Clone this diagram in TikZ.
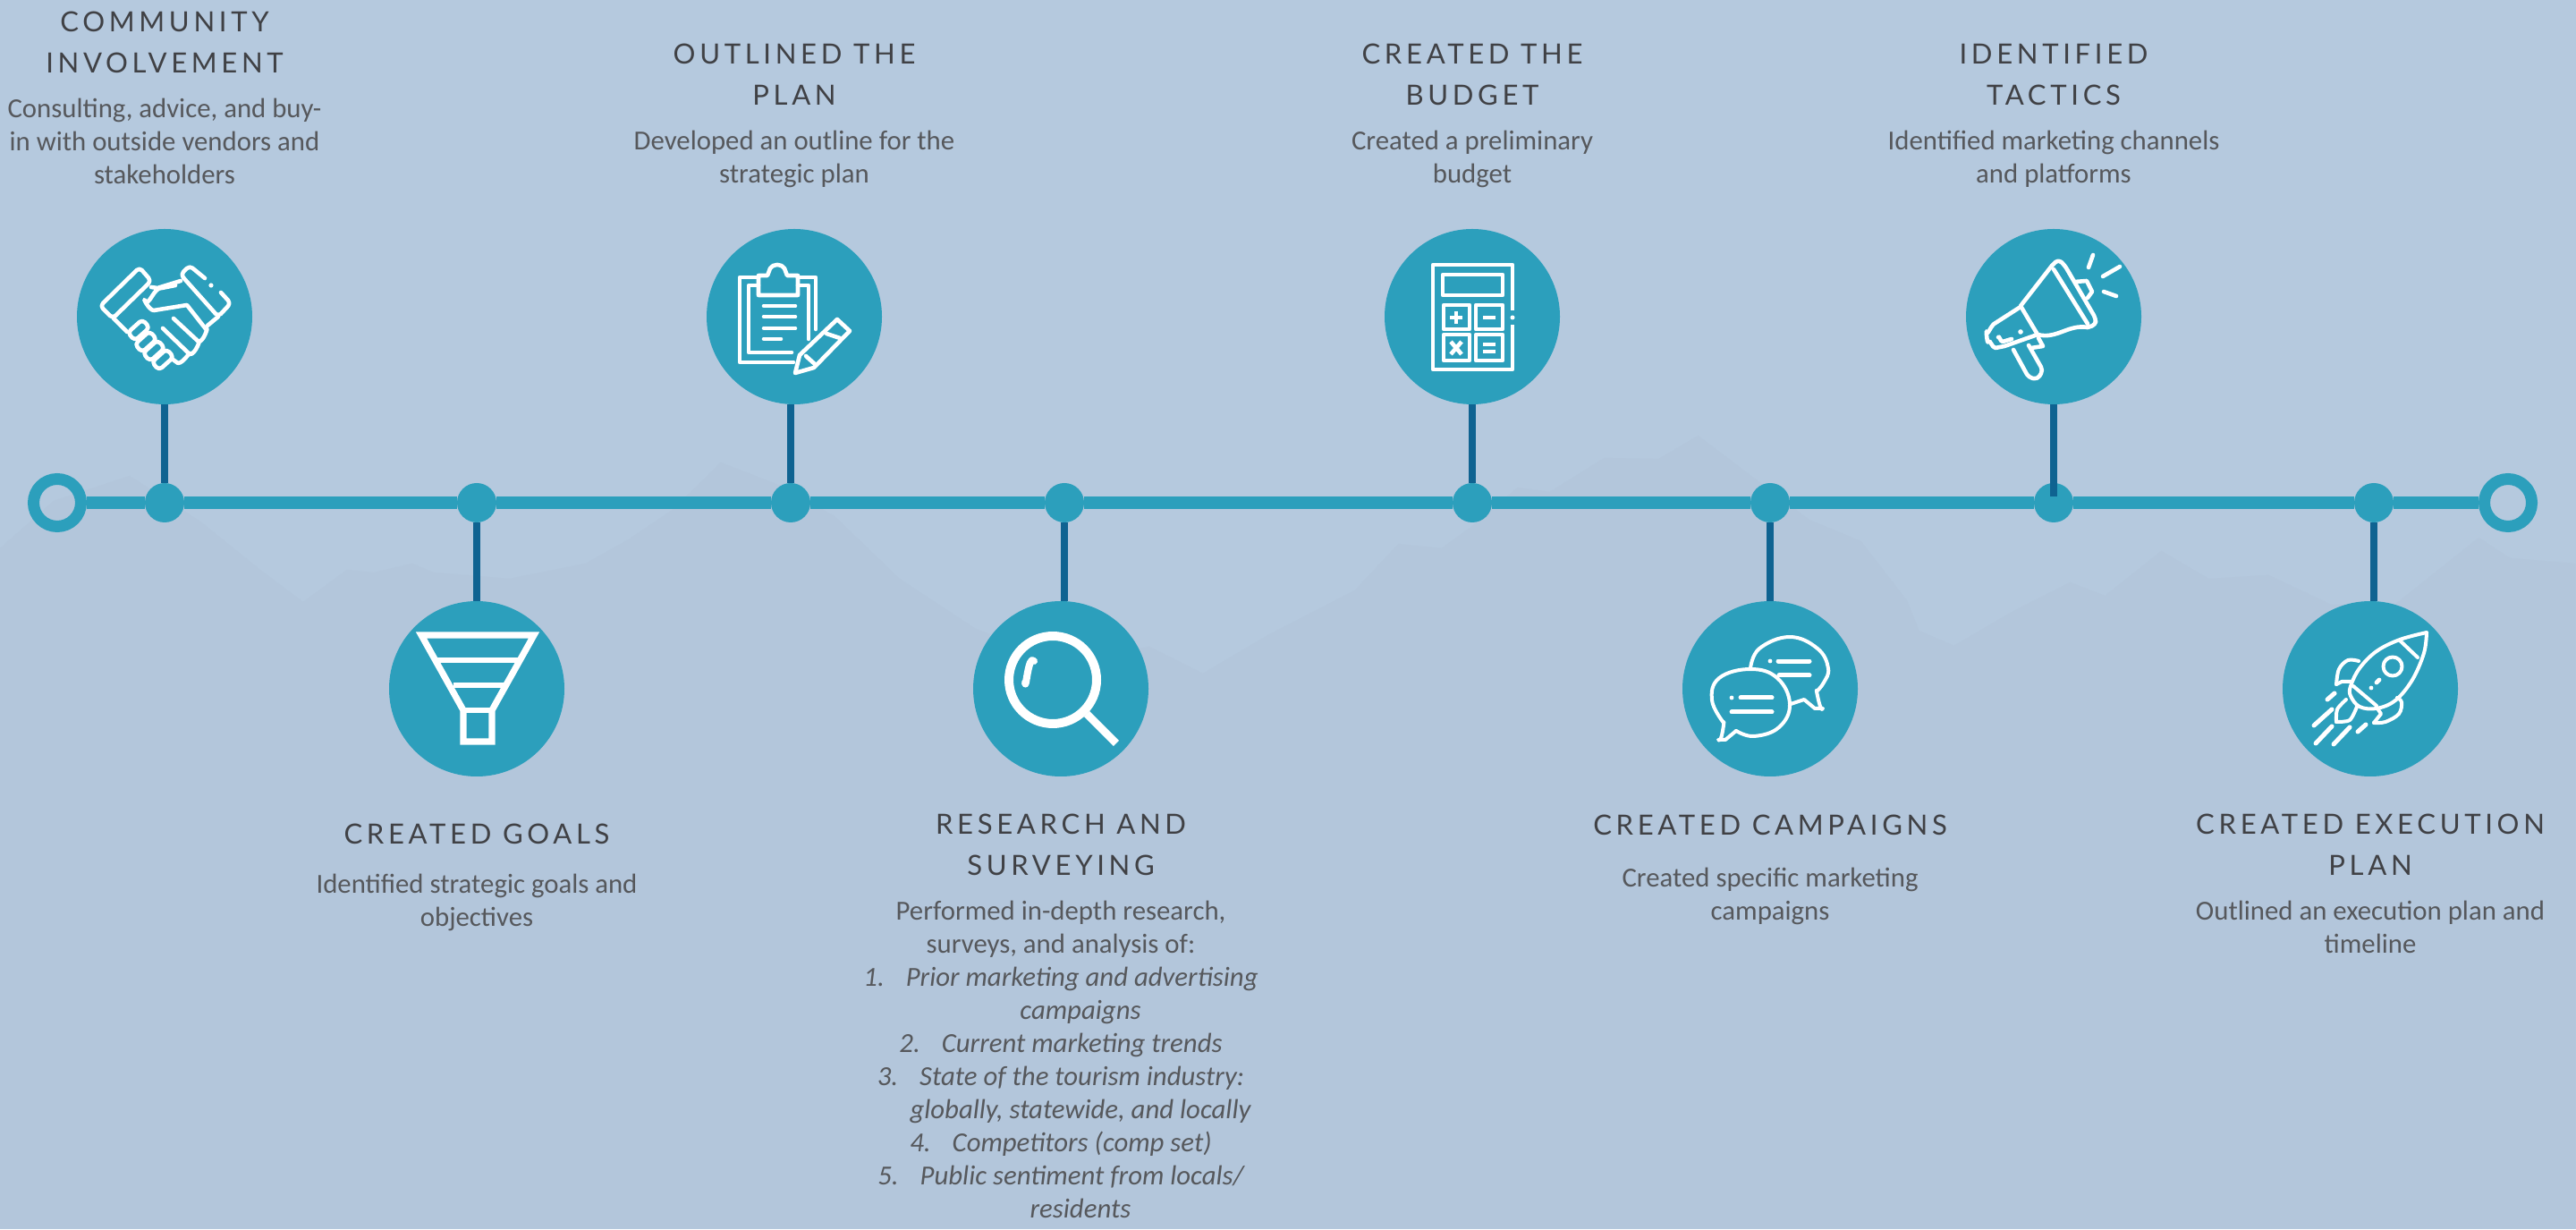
\documentclass[tikz,border=0pt]{standalone}
\usepackage{fontspec}
\setmainfont{Carlito}
\newfontfamily\headfont[LetterSpace=15]{Lato}
\usetikzlibrary{positioning}
\definecolor{backblue}{HTML}{B5C9DE}
\definecolor{hillblue}{HTML}{B3C6DB}
\definecolor{stepteal}{HTML}{2C9FBC}
\definecolor{deepblue}{HTML}{0F6391}
\definecolor{headgray}{HTML}{404145}
\definecolor{bodygray}{HTML}{56585C}

\begin{document}
\begin{tikzpicture}
[node distance = 1cm, auto,
% STYLES
% The ring style closes both ends of the line
ring/.style={circle, draw=stepteal, line width=0.325cm, minimum size=1.325cm, inner sep=0pt},
% The hub style marks each step on the line
hub/.style={circle, fill=stepteal, minimum size=1.1cm, inner sep=0pt, outer sep=0pt},
% The badge style holds the white icon
badge/.style={circle, fill=stepteal, minimum size=4.9cm, inner sep=0pt, outer sep=0pt},
% The heading and blurb styles carry the text of each step
heading/.style={inner sep=0pt, outer sep=0pt, align=center, text=headgray, font=\headfont\fontsize{22.1}{32.7}\selectfont,
  execute at begin node=\strut, execute at end node=\strut},
blurb/.style={inner sep=0pt, outer sep=0pt, align=center, text=bodygray, font=\fontsize{21.9}{26.3}\selectfont,
  execute at begin node=\strut, execute at end node=\strut},
% The line and link styles are the connectors
line/.style={draw=stepteal, line width=0.34cm},
link/.style={draw=deepblue, line width=0.2cm},
% The glyph styles draw the icons, in pixels from the badge centre
glyph/.style={x=0.025cm, y=-0.025cm, draw=white, line width=0.115cm, line cap=round, line join=round},
dab/.style={fill=white, draw=none}]

% Canvas
\path[use as bounding box, fill=backblue] (0,0) rectangle (72,34.35);
\begin{scope}[x=0.025cm, y=-0.025cm, yshift=34.35cm]
\fill[hillblue] (0,613) -- (60,560) -- (145,532) -- (224,583) -- (291,637) -- (339,673) -- (388,637) -- (418,640)
  -- (461,630) -- (485,640) -- (570,647) -- (655,630) -- (703,603) -- (752,570) -- (806,517) -- (873,543)
  -- (933,577) -- (1006,647) -- (1091,703) -- (1190,740) -- (1285,723) -- (1345,753) -- (1418,710) -- (1515,660)
  -- (1564,608) -- (1612,613) -- (1648,587) -- (1697,545) -- (1733,550) -- (1794,512) -- (1855,513) -- (1899,487)
  -- (2023,581) -- (2081,605) -- (2133,672) -- (2146,705) -- (2185,722) -- (2250,684) -- (2315,651) -- (2354,666)
  -- (2417,616) -- (2470,647) -- (2537,643) -- (2607,676) -- (2678,676) -- (2772,601) -- (2807,624) -- (2880,630)
  -- (2880,1374) -- (0,1374) -- cycle;
\end{scope}

% Draw the line
\node [ring] (start) at (1.6,20.3) {};
\node [hub, right=1.625cm of start] (hubtalk) {};
\node [hub, right=7.625cm of hubtalk] (hubgoals) {};
\node [hub, right=7.675cm of hubgoals] (hubplan) {};
\node [hub, right=6.55cm of hubplan] (hubsearch) {};
\node [hub, right=10.3cm of hubsearch] (hubbudget) {};
\node [hub, right=7.225cm of hubbudget] (hubcamp) {};
\node [hub, right=6.825cm of hubcamp] (hubtactics) {};
\node [hub, right=7.85cm of hubtactics] (hubrocket) {};
\node [ring, right=2.375cm of hubrocket] (finish) {};

% Draw badges
\node [badge, above=2.2cm of hubtalk] (talk) {};
\node [badge, below=2.2cm of hubgoals] (goals) {};
\node [badge, above=2.2cm of hubplan, xshift=0.1cm] (plan) {};
\node [badge, below=2.2cm of hubsearch, xshift=-0.1cm] (search) {};
\node [badge, above=2.2cm of hubbudget] (budget) {};
\node [badge, below=2.2cm of hubcamp] (camp) {};
\node [badge, above=2.2cm of hubtactics] (tactics) {};
\node [badge, below=2.2cm of hubrocket, xshift=-0.1cm] (rocket) {};

%%%%%%%%%%%%%%%
% Text from here

% Community
\node [blurb, above=0.975cm of talk] (talktext)
{Consulting, advice, and buy-\\in with outside vendors and\\stakeholders};
\node [heading, above=0.38cm of talktext] {COMMUNITY\\INVOLVEMENT};

% Goals
\node [heading, below=1.075cm of goals] (goalshead) {CREATED GOALS};
\node [blurb, below=0.5cm of goalshead]
{Identified strategic goals and\\objectives};

% Outline
\node [blurb, above=1.0cm of plan] (plantext)
{Developed an outline for the\\strategic plan};
\node [heading, above=0.38cm of plantext] {OUTLINED THE\\PLAN};

% Research
\node [heading, below=1.05cm of search] (searchhead) {RESEARCH AND\\SURVEYING};
\node [blurb, below=0.38cm of searchhead]
{Performed in-depth research,\\surveys, and analysis of:\\
\itshape 1.\hspace{0.6cm}Prior marketing and advertising\\
\itshape \hspace{1.1cm}campaigns\\
\itshape 2.\hspace{0.6cm}Current marketing trends\\
\itshape 3.\hspace{0.6cm}State of the tourism industry:\\
\itshape \hspace{1.1cm}globally, statewide, and locally\\
\itshape 4.\hspace{0.6cm}Competitors (comp set)\\
\itshape 5.\hspace{0.6cm}Public sentiment from locals/\\
\itshape \hspace{1.1cm}residents};

% Budget
\node [blurb, above=1.0cm of budget] (budgettext)
{Created a preliminary\\budget};
\node [heading, above=0.38cm of budgettext] {CREATED THE\\BUDGET};

% Campaigns
\node [heading, below=0.825cm of camp] (camphead) {CREATED CAMPAIGNS};
\node [blurb, below=0.575cm of camphead]
{Created specific marketing\\campaigns};

% Tactics
\node [blurb, above=1.0cm of tactics] (tacticstext)
{Identified marketing channels\\and platforms};
\node [heading, above=0.38cm of tacticstext] {IDENTIFIED\\TACTICS};

% Execution
\node [heading, below=1.05cm of rocket] (rockethead) {CREATED EXECUTION\\PLAN};
\node [blurb, below=0.38cm of rockethead]
{Outlined an execution plan and\\timeline};

%%%%%%%%%%%%%%%%

% Draw the links
\path[line]
(start) edge (hubtalk)
(hubtalk) edge (hubgoals)
(hubgoals) edge (hubplan)
(hubplan) edge (hubsearch)
(hubsearch) edge (hubbudget)
(hubbudget) edge (hubcamp)
(hubcamp) edge (hubtactics)
(hubtactics) edge (hubrocket)
(hubrocket) edge (finish);

\coordinate [above=0.17cm of hubtactics.center] (tacticsfoot);
\path[link]
(talk) edge (hubtalk)
(goals) edge (hubgoals)
(hubplan) edge (hubplan |- plan.south)
(hubsearch) edge (hubsearch |- search.north)
(budget) edge (hubbudget)
(camp) edge (hubcamp)
(tactics) edge (tacticsfoot)
(hubrocket) edge (hubrocket |- rocket.north);

% Draw icons
% Handshake
\begin{scope}[shift={(talk.center)}, glyph]
\draw[rounded corners=3pt] (-28,-55) -- (-15,-40) -- (-58,2) -- (-72,-12) -- cycle;
\draw[rounded corners=3pt] (45,-43) -- (28,-57) -- (18,-47) -- (60,0) -- (74,-15) -- (63,-27);
\fill[dab] (52,-35) circle (2.6);
\draw (-15,-33) -- (-8,-32) -- (18,-40);
\draw (12,-35) -- (-3,-32) to[out=170,in=-60] (-22,-18) to[out=120,in=180] (-12,-7) -- (25,-13) -- (47,15)
  to[out=70,in=0] (38,28) to[out=60,in=-10] (28,42) to[out=70,in=0] (15,52) -- (8,47);
\draw (10,2) -- (38,28) (-2,13) -- (28,42) (48,10) -- (60,0);
\draw (-57,2) -- (-42,17);
\foreach \fx/\fy in {-29/15,-21/28,-12/38,-2/48}
  \draw[rotate around={42:(\fx,\fy)}, rounded corners=3pt] (\fx-11,\fy-6) rectangle (\fx+11,\fy+6);
\end{scope}

% Funnel
\begin{scope}[shift={(goals.center)}, glyph]
\draw[line width=0.18cm, line cap=butt, line join=miter] (-62,-60) -- (64,-60) -- (17,24) -- (17,59) -- (-15,59) -- (-15,24) -- cycle;
\draw[line width=0.14cm, line cap=butt] (-48,-32) -- (48,-32) (-26,-4) -- (32,-4) (-15,24) -- (17,24);
\end{scope}

% Clipboard
\begin{scope}[shift={(plan.center)}, glyph]
\draw (24,14) -- (24,-44) -- (4,-44) (-40,-44) -- (-61,-44) -- (-61,51) -- (-1,51);
\draw (-40,-35) -- (-51,-35) -- (-51,40) -- (-3,40) (4,-35) -- (16,-35) -- (16,25);
\draw (-40,-24) -- (-40,-46) -- (-30,-46) -- (-27,-54) to[out=60,in=120] (-11,-54) -- (-8,-46) -- (4,-46) -- (4,-24) -- cycle;
\draw (-34,-12) -- (1,-12) (-34,0) -- (1,0) (-34,13) -- (1,13) (-34,25) -- (-15,25);
\draw (1,63) -- (6,43) -- (48,3) -- (62,16) -- (22,57) -- cycle;
\draw (36,19) -- (51,24) (13,44) -- (24,54);
\end{scope}

% Magnifier
\begin{scope}[shift={(search.center)}, glyph, line width=0.25cm]
\draw (-9,-10) circle (49);
\draw[line cap=butt, line width=0.22cm] (29,28) -- (62,61);
\draw[line width=0.2cm] (-30,-31) to[out=130,in=-85] (-40,-7);
\end{scope}

% Calculator
\begin{scope}[shift={(budget.center)}, glyph, line cap=butt]
\draw (45,-7) -- (45,-58) -- (-44,-58) -- (-44,59) -- (45,59) -- (45,9);
\fill[dab] (45,1) circle (2.5);
\draw (-33,-47) rectangle (34,-24);
\draw (-32,-13) rectangle (-3,14) (4,-13) rectangle (34,14);
\draw (-32,20) rectangle (-3,49) (4,20) rectangle (34,49);
\draw (-25,1) -- (-11,1) (-18,-6) -- (-18,8);
\draw (12,1) -- (26,1);
\draw (-24,28) -- (-12,42) (-12,28) -- (-24,42);
\draw (12,31) -- (26,31) (12,39) -- (26,39);
\end{scope}

% Chat bubbles
\begin{scope}[shift={(camp.center)}, glyph, line width=0.1cm]
\draw plot[smooth, tension=0.7] coordinates {(-52,38) (-65,13) (-57,-12) (-22,-22) (8,-12) (22,17) (10,43) (-18,53) (-38,47)};
\draw (-52,38) to[out=80,in=-60] (-58,57) -- (-50,57) -- (-38,47);
\draw plot[smooth, tension=0.7] coordinates {(-22,-23) (-12,-45) (22,-58) (53,-45) (65,-23) (60,-7) (52,3)};
\draw (52,3) to[out=100,in=-110] (59,22) -- (50,22) -- (38,12) -- (23,17);
\draw[line width=0.125cm] (-33,10) -- (2,10) (-43,26) -- (2,26) (9,-31) -- (44,-31) (10,-15) -- (44,-15);
\fill[dab] (-43,10) circle (2.4) (0,-31) circle (2.4);
\end{scope}

% Megaphone
\begin{scope}[shift={(tactics.center)}, glyph]
\draw[rounded corners=3pt] (-2,-57) -- (5,-64) -- (12,-58) -- (47,2) -- (47,9) -- (38,12);
\draw (0,-53) -- (38,8);
\draw (-2,-57) -- (-37,-12) -- (-18,20) to[out=-15,in=170] (38,12);
\draw (-37,-11) -- (-65,7) to[out=-160,in=-80] (-75,17) to[out=100,in=-110] (-73,28) to[out=70,in=180] (-65,35) -- (-55,33) -- (-18,20);
\draw (-62,23) to[out=70,in=180] (-57,28) -- (-47,25);
\fill[dab] (-37,17) circle (2.8);
\draw[rounded corners=3pt] (-45,37) -- (-28,68) -- (-18,70) -- (-12,60) -- (-28,32);
\draw (-17,24) -- (-12,33) -- (-25,35);
\draw (24,-39) -- (37,-40) -- (43,-28) -- (38,-21);
\draw (44,-69) -- (39,-55) (74,-56) -- (55,-45) (56,-28) -- (70,-23);
\end{scope}

% Rocket
\begin{scope}[shift={(rocket.center)}, glyph, line width=0.1cm]
\draw plot[smooth, tension=0.6] coordinates {(63,-63) (33,-55) (7,-42) (-12,-23) (-22,-3) (-22,8) (-12,20) (7,22) (28,13) (47,-10) (60,-40) (63,-63)};
\draw (-19,-3) -- (7,19);
\draw (33,-54) -- (53,-35);
\draw (25,-25) circle (10.5);
\draw[line width=0.12cm] (10,-10) -- (7,-7) (1,-1) -- (1,-1);
\draw plot[smooth, tension=0.6] coordinates {(-13,-31) (-25,-32) (-35,-22) (-38,-5)};
\draw (-38,-5) -- (-32,-8) -- (-21,-8);
\draw plot[smooth, tension=0.6] coordinates {(30,10) (35,15) (32,28) (17,37) (4,38)};
\draw (4,38) -- (12,28) -- (8,22);
\draw plot[smooth, tension=0.5] coordinates {(-27,12) (-37,23) (-38,37)};
\draw plot[smooth, tension=0.5] coordinates {(-38,37) (-23,35) (-15,20)};
\draw[line width=0.125cm] (-40,5) -- (-48,12) (-43,23) -- (-63,41) (-43,42) -- (-61,61) (-23,43) -- (-41,62) (-5,40) -- (-14,48);
\end{scope}

\end{tikzpicture}
\end{document}
